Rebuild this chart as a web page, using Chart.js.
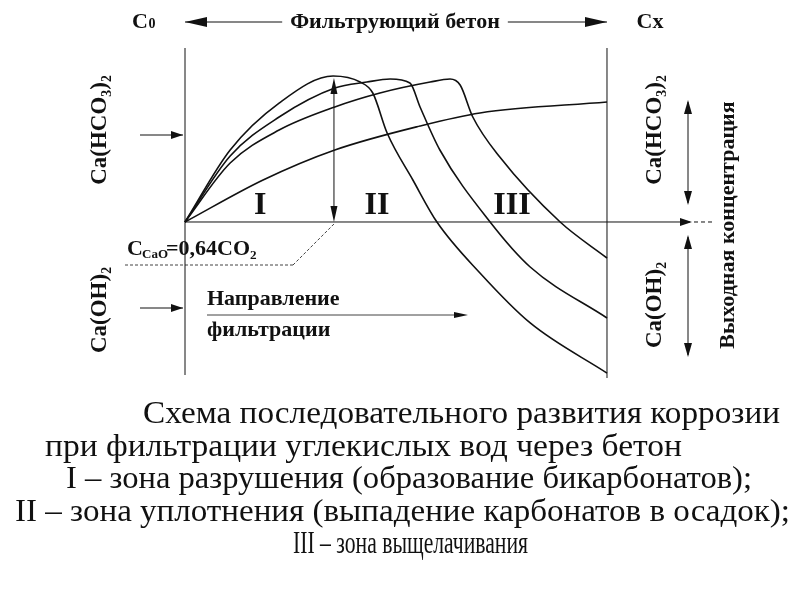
<!DOCTYPE html>
<html>
<head>
<meta charset="utf-8">
<script src="https://cdn.jsdelivr.net/npm/chart.js@4.4.1/dist/chart.umd.min.js"></script>
<style>
  html, body { margin: 0; padding: 0; background: #fff; }
  #wrap { width: 806px; height: 613px; }
</style>
</head>
<body>
<div id="wrap"><canvas id="scheme"></canvas></div>
<script>
// depth through concrete, 0 = C0 face, 100 = Cx face
const curveAX = [0, 10.7, 22.3, 35.1, 41.5, 44.5, 47.9, 54.0, 59.7, 69.9, 81.8, 100];
const curveAY = [0, 48, 79.3, 97.3, 93.3, 86, 59.3, 28, 0, -34, -67.3, -100.7];
const curveBX = [0, 10.7, 22.3, 35.5, 43.1, 48.6, 53.3, 55.7, 60.4, 72.3, 81.8, 100];
const curveBY = [0, 44, 70, 89.3, 93.3, 95.3, 92.7, 76.7, 48, 0, -30, -64];
const curveCX = [0, 10.7, 22.3, 35.5, 46.2, 58.1, 62.8, 65.2, 68.2, 74.6, 88.9, 100];
const curveCY = [0, 39.3, 61.3, 76.7, 86, 93.3, 95.3, 91.3, 70, 43.3, 0, -24];
const curveDX = [0, 18.5, 35.5, 55.7, 69.9, 100];
const curveDY = [0, 28, 48, 64, 72.7, 80];

const zoneLabels = ['I', 'II', 'III'];
const zoneX = [17.8, 45.5, 77.5];
const captionLines = [
    'Схема последовательного развития коррозии',
    'при фильтрации углекислых вод через бетон',
    'I – зона разрушения (образование бикарбонатов);',
    'II – зона уплотнения (выпадение карбонатов в осадок);',
    'III – зона выщелачивания'
];

const toPoints = (xs, ys) => xs.map((x, i) => ({ x: x, y: ys[i] }));
const lineStyle = {
    borderColor: '#111', borderWidth: 1.6, pointRadius: 0,
    showLine: true, fill: false, cubicInterpolationMode: 'monotone'
};

const SERIF = '"Liberation Serif", "DejaVu Serif", serif';

function arrowHead(ctx, x, y, dir, len, w) {
    ctx.save();
    ctx.translate(x, y);
    ctx.rotate(dir);
    ctx.beginPath();
    ctx.moveTo(0, 0);
    ctx.lineTo(-len, -w);
    ctx.lineTo(-len, w);
    ctx.closePath();
    ctx.fill();
    ctx.restore();
}

function line(ctx, x1, y1, x2, y2, lw) {
    ctx.lineWidth = lw || 1;
    ctx.beginPath();
    ctx.moveTo(x1, y1);
    ctx.lineTo(x2, y2);
    ctx.stroke();
}

function rotText(ctx, txt, x, y, font) {
    ctx.save();
    ctx.translate(x, y);
    ctx.rotate(-Math.PI / 2);
    ctx.font = font;
    ctx.textAlign = 'center';
    ctx.textBaseline = 'middle';
    ctx.fillText(txt, 0, 0);
    ctx.restore();
}

// condensed text squeezed between left and right
function fitText(ctx, txt, left, right, base) {
    ctx.save();
    const w = ctx.measureText(txt).width;
    ctx.translate(left, base);
    ctx.scale((right - left) / w, 1);
    ctx.textAlign = 'left';
    ctx.fillText(txt, 0, 0);
    ctx.restore();
}

const decor = {
    id: 'decor',
    afterDatasetsDraw(chart) {
        const ctx = chart.ctx;
        const sx = chart.scales.x, sy = chart.scales.y;
        const X = v => sx.getPixelForValue(v);
        const Y = v => sy.getPixelForValue(v);
        const x0 = X(0), x1 = X(100), y0 = Y(0);
        ctx.save();
        ctx.strokeStyle = '#111';
        ctx.fillStyle = '#111';

        line(ctx, x0, 48, x0, 375, 1);
        line(ctx, x1, 48, x1, 378, 1);
        line(ctx, x0, y0, 690, y0, 1);
        arrowHead(ctx, 692, y0, 0, 12, 4);
        ctx.setLineDash([4, 3]);
        line(ctx, 694, y0, 712, y0, 1);
        ctx.setLineDash([]);

        line(ctx, x0, 22, x1, 22, 1.2);
        arrowHead(ctx, x0, 22, Math.PI, 22, 5);
        arrowHead(ctx, x1, 22, 0, 22, 5);
        ctx.font = 'bold 22px ' + SERIF;
        ctx.textAlign = 'center';
        ctx.textBaseline = 'middle';
        const title = 'Фильтрующий бетон';
        const tw = ctx.measureText(title).width;
        ctx.fillStyle = '#fff';
        ctx.fillRect(395 - tw / 2 - 8, 8, tw + 16, 28);
        ctx.fillStyle = '#111';
        ctx.fillText(title, 395, 22);
        ctx.fillText('C', 140, 22);
        ctx.font = 'bold 14px ' + SERIF;
        ctx.fillText('0', 152, 24);
        ctx.font = 'bold 22px ' + SERIF;
        ctx.fillText('Cx', 650, 22);

        line(ctx, 140, 135, x0 - 2, 135, 1);
        arrowHead(ctx, x0 - 2, 135, 0, 12, 4);
        line(ctx, 140, 308, x0 - 2, 308, 1);
        arrowHead(ctx, x0 - 2, 308, 0, 12, 4);
        rotText(ctx, 'Ca(HCO₃)₂', 100, 130, 'bold 23px ' + SERIF);
        rotText(ctx, 'Ca(OH)₂', 100, 310, 'bold 23px ' + SERIF);

        rotText(ctx, 'Ca(HCO₃)₂', 655, 130, 'bold 23px ' + SERIF);
        rotText(ctx, 'Ca(OH)₂', 655, 305, 'bold 23px ' + SERIF);
        line(ctx, 688, 102, 688, 203, 1);
        arrowHead(ctx, 688, 100, -Math.PI / 2, 14, 4);
        arrowHead(ctx, 688, 205, Math.PI / 2, 14, 4);
        line(ctx, 688, 237, 688, 355, 1);
        arrowHead(ctx, 688, 235, -Math.PI / 2, 14, 4);
        arrowHead(ctx, 688, 357, Math.PI / 2, 14, 4);
        rotText(ctx, 'Выходная концентрация', 728, 225, 'bold 22px ' + SERIF);

        ctx.font = 'bold 32px ' + SERIF;
        ctx.textAlign = 'center';
        ctx.textBaseline = 'alphabetic';
        zoneLabels.forEach((z, i) => ctx.fillText(z, X(zoneX[i]), y0 - 8));

        const xb = X(35.3);
        line(ctx, xb, 84, xb, y0 - 6, 1);
        arrowHead(ctx, xb, 78, -Math.PI / 2, 16, 3.5);
        arrowHead(ctx, xb, y0, Math.PI / 2, 16, 3.5);
        ctx.setLineDash([3, 2]);
        line(ctx, xb, y0 + 2, 293, 265, 0.8);
        line(ctx, 293, 265, 125, 265, 0.8);
        ctx.setLineDash([]);
        ctx.textAlign = 'left';
        ctx.font = 'bold 22px ' + SERIF;
        ctx.fillText('C', 127, 255);
        ctx.font = 'bold 13px ' + SERIF;
        ctx.fillText('CaO', 142, 258);
        ctx.font = 'bold 22px ' + SERIF;
        ctx.fillText('=0,64CO₂', 166, 255);

        ctx.font = 'bold 22px ' + SERIF;
        ctx.fillText('Направление', 207, 305);
        ctx.fillText('фильтрации', 207, 336);
        line(ctx, 207, 315, 455, 315, 0.8);
        arrowHead(ctx, 468, 315, 0, 14, 3);

        // caption, condensed serif
        ctx.font = '31px ' + SERIF;
        const capL = [143, 45, 66, 15, 293];
        const capR = [780, 682, 752, 790, 528];
        const capY = [423, 456, 488, 521, 553];
        captionLines.forEach((t, i) => fitText(ctx, t, capL[i], capR[i], capY[i]));
        ctx.restore();
    }
};

new Chart(document.getElementById('scheme'), {
    type: 'scatter',
    data: {
        datasets: [
            Object.assign({ label: 'A', data: toPoints(curveAX, curveAY) }, lineStyle),
            Object.assign({ label: 'B', data: toPoints(curveBX, curveBY) }, lineStyle),
            Object.assign({ label: 'C', data: toPoints(curveCX, curveCY) }, lineStyle),
            Object.assign({ label: 'D', data: toPoints(curveDX, curveDY) }, lineStyle)
        ]
    },
    options: {
        responsive: true,
        maintainAspectRatio: false,
        animation: false,
        layout: { padding: 0 },
        scales: {
            x: { display: false, min: -43.84, max: 147.16 },
            y: { display: false, min: -260.67, max: 148 }
        },
        plugins: {
            legend: { display: false },
            tooltip: { enabled: false }
        }
    },
    plugins: [decor]
});
</script>
</body>
</html>
